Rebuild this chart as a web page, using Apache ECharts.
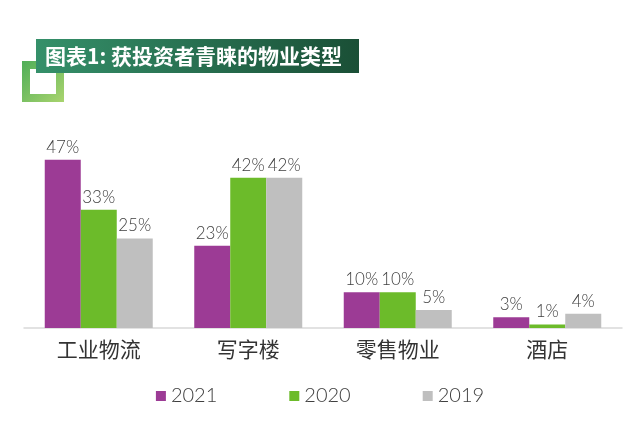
<!DOCTYPE html>
<html><head><meta charset="utf-8">
<script src="https://cdn.jsdelivr.net/npm/echarts@6/dist/echarts.min.js"></script>
<style>html,body{margin:0;padding:0;background:#fff}#c{width:640px;height:435px}</style>
</head><body><div id="c"></div>
<script>
const categories = ['工业物流', '写字楼', '零售物业', '酒店'];
const seriesNames = ['2021', '2020', '2019'];
const values2021 = [47, 23, 10, 3];
const values2020 = [33, 42, 10, 1];
const values2019 = [25, 42, 5, 4];
const colors = ['#9c3b95', '#6cbb2a', '#bfbfbf'];
const titleText = '图表1: 获投资者青睐的物业类型';
const FONT = "'Century Gothic', Lato, 'Noto Sans CJK SC', sans-serif";

const chart = echarts.init(document.getElementById('c'), null, {renderer: 'canvas'});
const mk = (name, data, i) => ({
  name, type: 'bar', data, barWidth: 36, barGap: '0%',
  itemStyle: {color: colors[i]},
  label: {show: true, position: 'top', formatter: '{c}%', color: '#404040', fontSize: 17, fontWeight: 300, fontFamily: FONT, distance: 4}
});
chart.setOption({
  animation: false,
  color: colors,
  grid: {left: 24, right: 18, top: 149, bottom: 107, containLabel: false},
  xAxis: {
    type: 'category', data: categories,
    axisLine: {lineStyle: {color: '#d9d9d9', width: 1.5}},
    axisTick: {show: false},
    axisLabel: {color: '#333', fontSize: 21, fontFamily: "'Noto Sans CJK SC', sans-serif", margin: 11}
  },
  yAxis: {type: 'value', min: 0, max: 50, show: false, splitLine: {show: false}},
  legend: {
    bottom: 24, left: 'center', itemWidth: 10, itemHeight: 10, itemGap: 72, icon: 'rect',
    textStyle: {color: '#404040', fontSize: 20, fontWeight: 300, fontFamily: FONT}
  },
  graphic: [
    {type: 'rect', left: 22, top: 61, shape: {x: 0, y: 0, width: 34, height: 33},
     style: {fill: 'none', lineWidth: 8,
       stroke: new echarts.graphic.LinearGradient(0, 0, 1, 1, [{offset: 0, color: '#4fae58'}, {offset: 1, color: '#a9d46e'}])}},
    {type: 'rect', shape: {x: 36, y: 39, width: 323, height: 34},
     style: {fill: new echarts.graphic.LinearGradient(0, 0, 1, 0, [{offset: 0, color: '#35906a'}, {offset: 1, color: '#1a4f36'}])}},
    {type: 'text', x: 45, y: 56, style: {text: titleText, fill: '#fff', fontSize: 21, fontWeight: 'bold',
       fontFamily: "'Noto Sans CJK SC', sans-serif", verticalAlign: 'middle'}}
  ],
  series: [mk(seriesNames[0], values2021, 0), mk(seriesNames[1], values2020, 1), mk(seriesNames[2], values2019, 2)]
});
</script></body></html>
